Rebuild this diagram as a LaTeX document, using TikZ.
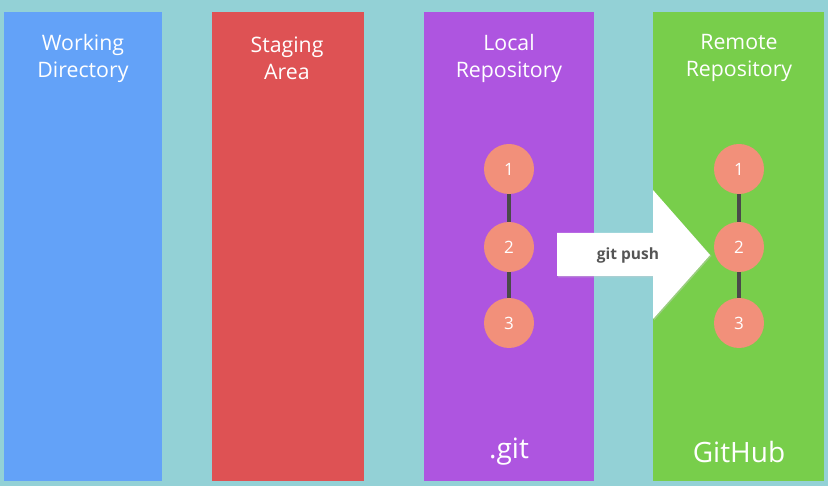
\documentclass[tikz,border=0pt]{standalone}
\usepackage{fontspec}
\setmainfont{Open Sans}
\begin{document}
\begin{tikzpicture}[x=1pt,y=-1pt,
  title/.style={text=white,font=\fontsize{21.3}{27}\selectfont,align=center,anchor=center},
  foot/.style={text=white,font=\fontsize{28}{32}\selectfont,anchor=center},
  commit/.style={circle,fill=commitc,minimum size=50pt,inner sep=0pt,text=white,font=\fontsize{17}{19}\selectfont},
  link/.style={draw=linkc,line width=4pt},
]
\definecolor{bgc}{HTML}{93D1D6}
\definecolor{bluec}{HTML}{63A2F8}
\definecolor{redc}{HTML}{DE5254}
\definecolor{purplec}{HTML}{AE55E0}
\definecolor{greenc}{HTML}{78CE4B}
\definecolor{commitc}{HTML}{F2907A}
\definecolor{linkc}{HTML}{4A4A4A}
\definecolor{pushtext}{HTML}{555555}
\fill[bgc] (0,0) rectangle (828,486);
\useasboundingbox (0,0) rectangle (828,486);
% columns
\fill[bluec] (4,12) rectangle (162,481);
\fill[redc] (212,12) rectangle (364,481);
\fill[purplec] (424,12) rectangle (594,481);
\fill[greenc] (653,12) rectangle (824,481);
% titles
\node[title] (wd) at (83,58) {Working\\Directory};
\node[title] (sa) at (287,58) {Staging\\Area};
\node[title] (lr) at (509,58) {Local\\Repository};
\node[title] (rr) at (739,58) {Remote\\Repository};
% footers
\node[foot] (dotgit) at (509,452) {.git};
\node[foot] (github) at (739,452) {GitHub};
% arrow
\fill[black!20,opacity=0.4] (558,234.5) -- (654,234.5) -- (654,191.5) -- (711.5,256) -- (654,320.5) -- (654,277.5) -- (558,277.5) -- cycle;
\fill[white] (557,233) -- (653,233) -- (653,190) -- (710,255) -- (653,319) -- (653,276) -- (557,276) -- cycle;
\node[text=pushtext,font=\bfseries\fontsize{15.5}{17}\selectfont] (push) at (628,255) {git push};
% local commits
\node[commit] (l1) at (509,169) {1};
\node[commit] (l2) at (509,247) {2};
\node[commit] (l3) at (509,323) {3};
\draw[link] (l1) -- (l2);
\draw[link] (l2) -- (l3);
% remote commits
\node[commit] (r1) at (739,169) {1};
\node[commit] (r2) at (739,247) {2};
\node[commit] (r3) at (739,323) {3};
\draw[link] (r1) -- (r2);
\draw[link] (r2) -- (r3);
\end{tikzpicture}
\end{document}
